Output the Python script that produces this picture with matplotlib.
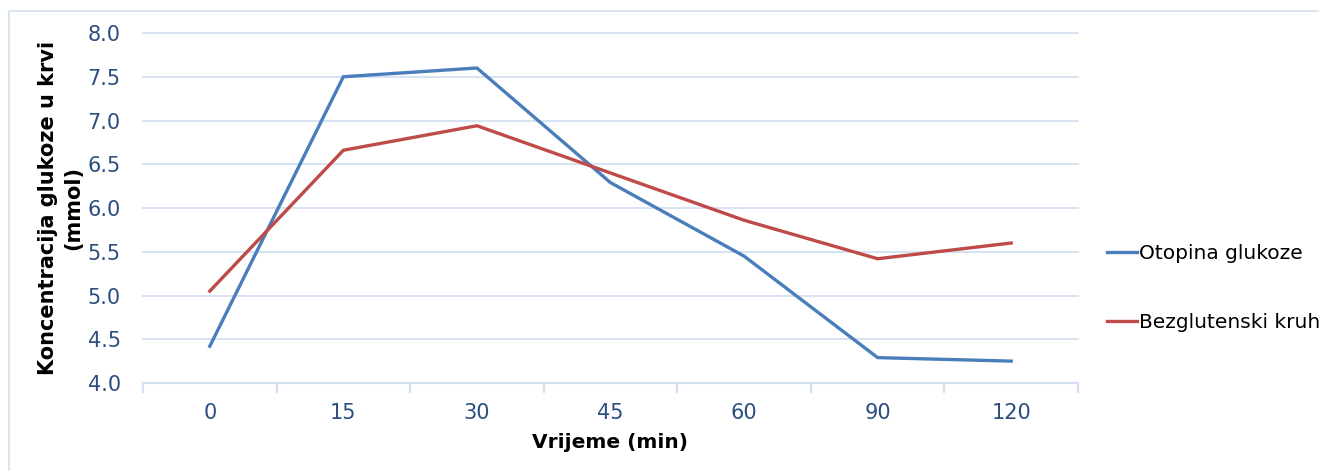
import matplotlib
matplotlib.use("Agg")
import matplotlib.pyplot as plt
from matplotlib.patches import Rectangle
import numpy as np

categories = ["0", "15", "30", "45", "60", "90", "120"]
otopina_glukoze = [4.42, 7.50, 7.60, 6.29, 5.45, 4.29, 4.25]
bezglutenski_kruh = [5.05, 6.66, 6.94, 6.40, 5.86, 5.42, 5.60]
series_names = ["Otopina glukoze", "Bezglutenski kruh"]
yticks = [4.0, 4.5, 5.0, 5.5, 6.0, 6.5, 7.0, 7.5, 8.0]

plt.rcParams['font.family'] = ['DejaVu Sans']

W, H = 1319, 471
fig = plt.figure(figsize=(W / 100, H / 100), dpi=100)
ax = fig.add_axes([143 / W, 1 - 383 / H, (1078 - 143) / W, (383 - 33) / H])

x = np.arange(len(categories))
l1, = ax.plot(x, otopina_glukoze, color="#4A7EBB", lw=2.4, solid_joinstyle="miter")
l2, = ax.plot(x, bezglutenski_kruh, color="#BE4B48", lw=2.4, solid_joinstyle="miter")
l1.set_label(series_names[0])
l2.set_label(series_names[1])

ax.set_xlim(-0.5, len(categories) - 0.5)
ax.set_ylim(4.0, 8.0)
ax.set_yticks(yticks)
ax.set_yticklabels([f"{v:.1f}" for v in yticks])
ax.set_xticks(x)
ax.set_xticklabels(categories)
ax.set_xticks(np.arange(-0.5, len(categories)), minor=True)

gridc = "#D3E0F1"
ax.yaxis.grid(True, color=gridc, lw=1.3)
for gl in ax.get_ygridlines():
    gl.set_clip_on(False)
ax.set_axisbelow(True)
for s in ["top", "right", "left"]:
    ax.spines[s].set_visible(False)
ax.spines["bottom"].set_color(gridc)
ax.spines["bottom"].set_linewidth(1.6)

tickc = "#2B4E7E"
ax.tick_params(axis="y", length=0, labelsize=15, labelcolor=tickc, pad=16)
ax.tick_params(axis="x", which="major", length=0, labelsize=15, labelcolor=tickc, pad=14.5)
ax.tick_params(axis="x", which="minor", length=7, color=gridc, width=1.6)

ax.set_xlabel("Vrijeme (min)", fontsize=14.5, fontweight="bold", labelpad=7)
ax.set_ylabel("Koncentracija glukoze u krvi\n(mmol)", fontsize=15, fontweight="bold",
              linespacing=1.3)
ax.yaxis.set_label_coords((83 - 143) / 935, 0.5)

leg = fig.legend(handles=[l1, l2], loc="center left",
                 bbox_to_anchor=(1107 / W, 1 - 288 / H), frameon=False,
                 fontsize=14.5, handlelength=1.5, handletextpad=0.1,
                 labelspacing=2.5, borderaxespad=0, borderpad=0)

fig.patches.append(Rectangle((9 / W, -0.1), 1.2, 1 - 11 / H + 0.1,
                             transform=fig.transFigure, fill=False,
                             edgecolor="#D3E0F1", lw=1.2))

fig.savefig("out.png", dpi=100)
